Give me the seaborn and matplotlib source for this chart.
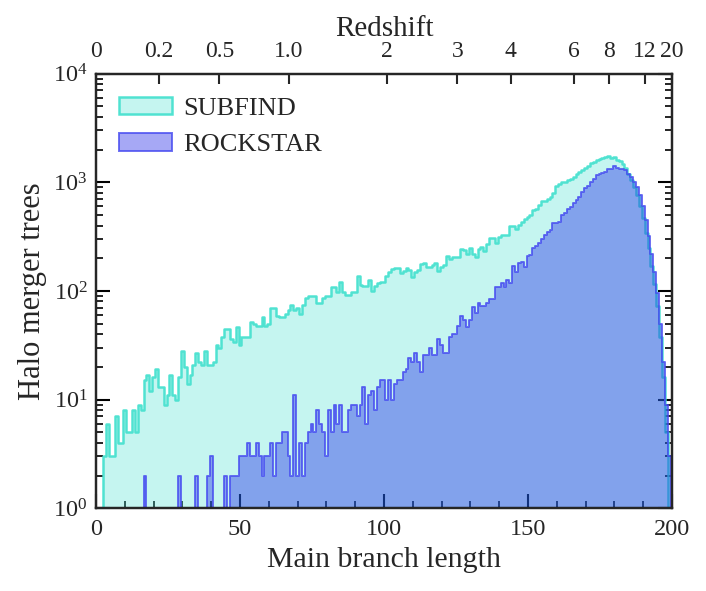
import numpy as np
import pandas as pd
import matplotlib
matplotlib.use("Agg")
import matplotlib.pyplot as plt
import seaborn as sns
from matplotlib.ticker import LogLocator, MultipleLocator, NullFormatter

# ---------------- data ----------------
branch_length = list(range(200))   # bin centres

subfind_counts = [
    0, 0, 0, 3, 6, 3, 3, 7, 4, 4,
    8, 5, 5, 8, 5, 9, 8, 15, 17, 12,
    16, 19, 13, 13, 9, 11, 17, 11, 10, 16,
    28, 20, 14, 17, 21, 27, 22, 21, 28, 21,
    21, 22, 32, 30, 38, 45, 45, 36, 34, 47,
    32, 38, 38, 38, 52, 50, 48, 48, 58, 48,
    50, 70, 69, 59, 58, 57, 61, 67, 75, 67,
    69, 61, 75, 86, 90, 89, 89, 77, 77, 86,
    89, 89, 108, 108, 98, 121, 98, 91, 91, 98,
    98, 136, 114, 111, 111, 126, 99, 110, 118, 121,
    121, 136, 150, 158, 161, 161, 146, 154, 161, 156,
    134, 150, 156, 177, 182, 167, 167, 172, 180, 154,
    167, 175, 210, 198, 204, 204, 204, 245, 238, 220,
    246, 221, 204, 241, 256, 232, 268, 307, 307, 277,
    316, 326, 330, 330, 398, 398, 375, 405, 432, 462,
    481, 496, 550, 570, 620, 676, 676, 705, 735, 800,
    925, 963, 1000, 1000, 1050, 1080, 1118, 1200, 1250, 1290,
    1350, 1410, 1490, 1540, 1610, 1640, 1660, 1700, 1740, 1680,
    1700, 1610, 1580, 1470, 1350, 1190, 1050, 900, 760, 600,
    470, 340, 250, 170, 115, 72, 38, 16, 5, 0,
]

rockstar_counts = [
    0, 0, 0, 0, 0, 0, 0, 0, 0, 0,
    0, 0, 0, 0, 0, 0, 0, 2, 0, 0,
    0, 0, 0, 0, 0, 0, 0, 0, 0, 2,
    0, 0, 0, 0, 0, 2, 0, 0, 0, 2,
    3, 0, 0, 0, 0, 2, 0, 2, 2, 2,
    3, 3, 3, 4, 3, 3, 4, 3, 2, 3,
    3, 4, 2, 4, 4, 5, 5, 3, 2, 11,
    2, 4, 2, 4, 5, 6, 5, 8, 6, 5,
    3, 8, 5, 9, 6, 9, 5, 5, 8, 9,
    9, 7, 9, 13, 6, 11, 12, 8, 13, 15,
    15, 10, 15, 10, 14, 15, 15, 18, 19, 24,
    22, 27, 22, 18, 26, 26, 30, 26, 26, 36,
    32, 27, 27, 38, 40, 40, 48, 59, 54, 47,
    54, 71, 63, 77, 72, 72, 77, 84, 84, 109,
    109, 119, 109, 125, 119, 171, 150, 180, 185, 165,
    210, 213, 246, 260, 277, 298, 326, 346, 362, 418,
    424, 432, 496, 522, 570, 595, 640, 680, 735, 820,
    890, 930, 1000, 1080, 1160, 1200, 1230, 1250, 1320, 1320,
    1400, 1350, 1320, 1320, 1290, 1200, 1110, 1000, 900, 760,
    600, 450, 320, 220, 150, 95, 50, 22, 9, 3,
]

redshift_labels = ["0", "0.2", "0.5", "1.0", "2", "3", "4", "6", "8", "12", "20"]
redshift_positions = [0, 21.9, 42.8, 67.0, 100.9, 125.5, 144.0, 166.0, 178.0, 190.5, 200]

df_sub = pd.DataFrame({"length": branch_length, "count": subfind_counts})
df_rock = pd.DataFrame({"length": branch_length, "count": rockstar_counts})

# ---------------- style ----------------
sns.set_style("ticks")
plt.rcParams["font.family"] = ["Liberation Serif", "DejaVu Serif"]
plt.rcParams["mathtext.fontset"] = "stix"

fig = plt.figure(figsize=(7.06, 5.91), dpi=100)
ax = fig.add_axes([96 / 706, 1 - 508.3 / 591, 576 / 706, (508.3 - 73.6) / 591])

sns.histplot(data=df_sub, x="length", weights="count",
             binwidth=1, binrange=(-0.5, 199.5),
             element="step", fill=True, color=(64/255, 224/255, 208/255),
             alpha=0.3, edgecolor=(64/255, 224/255, 205/255, 0.9),
             linewidth=1.8, label="SUBFIND", ax=ax)
sns.histplot(data=df_rock, x="length", weights="count",
             binwidth=1, binrange=(-0.5, 199.5),
             element="step", fill=True, color=(15/255, 20/255, 230/255),
             alpha=0.37, edgecolor=(70/255, 75/255, 240/255, 0.8),
             linewidth=1.4, label="ROCKSTAR", ax=ax)

ax.set_yscale("log")
ax.set_xlim(0, 200)
ax.set_ylim(1, 1e4)

ax.xaxis.set_major_locator(MultipleLocator(50))
ax.xaxis.set_minor_locator(MultipleLocator(10))
ax.yaxis.set_major_locator(LogLocator(base=10, numticks=10))
ax.yaxis.set_minor_locator(LogLocator(base=10, subs=np.arange(2, 10), numticks=100))
ax.yaxis.set_minor_formatter(NullFormatter())

ax.tick_params(which="both", direction="in", top=False, right=True,
               labelsize=17.5, color="black")
ax.tick_params(which="major", length=10, width=1.5, pad=8)
ax.tick_params(which="minor", length=5, width=1.2)
ax.tick_params(axis="y", which="major", pad=6)
for sp in ax.spines.values():
    sp.set_linewidth(1.6)
    sp.set_color("black")

ax.set_xlabel("Main branch length", fontsize=21.5, labelpad=5)
ax.set_ylabel("Halo merger trees", fontsize=22, labelpad=4)

leg = ax.legend(loc="upper left", bbox_to_anchor=(0.040, 0.947),
                frameon=False, fontsize=19, handlelength=2.0, handleheight=0.65,
                handletextpad=0.45, labelspacing=0.5, borderaxespad=0, borderpad=0)

# top redshift axis
ax2 = ax.twiny()
ax2.set_xlim(0, 200)
ax2.set_xticks(redshift_positions)
ax2.set_xticklabels(redshift_labels)
ax2.xaxis.set_minor_locator(plt.NullLocator())
ax2.tick_params(axis="x", direction="in", length=7, width=1.5, labelsize=17, pad=8)
ax2.set_xlabel("Redshift", fontsize=21, labelpad=4)
for sp in ax2.spines.values():
    sp.set_linewidth(1.6)

fig.savefig("out.png", dpi=100)
